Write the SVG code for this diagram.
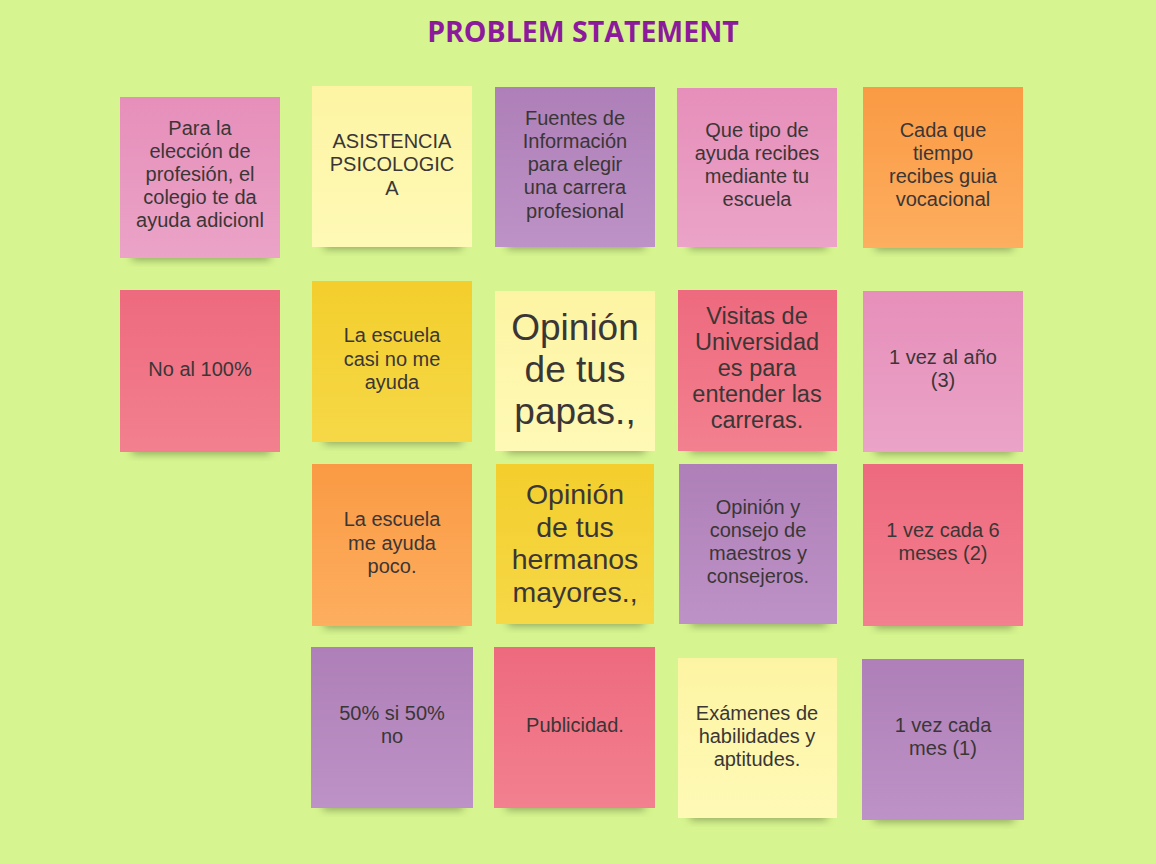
<svg xmlns="http://www.w3.org/2000/svg" width="1156" height="864" viewBox="0 0 1156 864">
<defs>
<filter id="sh" x="-20%" y="-50%" width="140%" height="200%"><feGaussianBlur stdDeviation="4"/></filter>
<linearGradient id="gPink" x1="0" y1="0" x2="0" y2="1"><stop offset="0" stop-color="#e68fba"/><stop offset="1" stop-color="#eba3c7"/></linearGradient>
<linearGradient id="gLY" x1="0" y1="0" x2="0" y2="1"><stop offset="0" stop-color="#fdf4a3"/><stop offset="1" stop-color="#fef9b6"/></linearGradient>
<linearGradient id="gPur" x1="0" y1="0" x2="0" y2="1"><stop offset="0" stop-color="#ae7fb8"/><stop offset="1" stop-color="#bd92c6"/></linearGradient>
<linearGradient id="gOr" x1="0" y1="0" x2="0" y2="1"><stop offset="0" stop-color="#fa9a44"/><stop offset="1" stop-color="#fdae5f"/></linearGradient>
<linearGradient id="gRed" x1="0" y1="0" x2="0" y2="1"><stop offset="0" stop-color="#ee6a7e"/><stop offset="1" stop-color="#f2808f"/></linearGradient>
<linearGradient id="gGold" x1="0" y1="0" x2="0" y2="1"><stop offset="0" stop-color="#f3ce2c"/><stop offset="1" stop-color="#f6d847"/></linearGradient>
</defs>
<style>
.t{font-family:"Liberation Sans",Arial,sans-serif;font-size:20px;fill:#3b3636;text-anchor:middle}
.b{font-size:37px}
.m{font-size:28.5px}
.v{font-size:23.5px}
.sd{fill:#4b5a2a;opacity:0.5;filter:url(#sh)}
.title{font-family:"Open Sans","Noto Sans",sans-serif;font-weight:bold;font-size:28.5px;fill:#8c1b9c;text-anchor:middle}
</style>
<rect width="1156" height="864" fill="#d6f590"/>
<text class="title" x="583" y="42">PROBLEM STATEMENT</text>

<g id="n1"><rect class="sd" x="132" y="246" width="138" height="14"/><rect x="120" y="97" width="160" height="161" fill="url(#gPink)"/>
<text class="t" x="200" y="135">Para la</text><text class="t" x="200" y="158">elección de</text><text class="t" x="200" y="181">profesión, el</text><text class="t" x="200" y="204">colegio te da</text><text class="t" x="200" y="227">ayuda adicionl</text></g>

<g id="n2"><rect class="sd" x="324" y="235" width="138" height="14"/><rect x="312" y="86" width="160" height="161" fill="url(#gLY)"/>
<text class="t" x="392" y="148">ASISTENCIA</text><text class="t" x="392" y="171">PSICOLOGIC</text><text class="t" x="392" y="195">A</text></g>

<g id="n3"><rect class="sd" x="507" y="235" width="138" height="14"/><rect x="495" y="87" width="160" height="160" fill="url(#gPur)"/>
<text class="t" x="575" y="125">Fuentes de</text><text class="t" x="575" y="148">Información</text><text class="t" x="575" y="171">para elegir</text><text class="t" x="575" y="194">una carrera</text><text class="t" x="575" y="218">profesional</text></g>

<g id="n4"><rect class="sd" x="689" y="235" width="138" height="14"/><rect x="677" y="88" width="160" height="159" fill="url(#gPink)"/>
<text class="t" x="757" y="137">Que tipo de</text><text class="t" x="757" y="160">ayuda recibes</text><text class="t" x="757" y="183">mediante tu</text><text class="t" x="757" y="206">escuela</text></g>

<g id="n5"><rect class="sd" x="875" y="236" width="138" height="14"/><rect x="863" y="87" width="160" height="161" fill="url(#gOr)"/>
<text class="t" x="943" y="137">Cada que</text><text class="t" x="943" y="160">tiempo</text><text class="t" x="943" y="183">recibes guia</text><text class="t" x="943" y="206">vocacional</text></g>

<g id="n6"><rect class="sd" x="132" y="440" width="138" height="14"/><rect x="120" y="290" width="160" height="162" fill="url(#gRed)"/>
<text class="t" x="200" y="376">No al 100%</text></g>

<g id="n7"><rect class="sd" x="324" y="430" width="138" height="14"/><rect x="312" y="281" width="160" height="161" fill="url(#gGold)"/>
<text class="t" x="392" y="342">La escuela</text><text class="t" x="392" y="366">casi no me</text><text class="t" x="392" y="389">ayuda</text></g>

<g id="n8"><rect class="sd" x="507" y="439" width="138" height="14"/><rect x="495" y="291" width="160" height="160" fill="url(#gLY)"/>
<text class="t b" x="575" y="340">Opinión</text><text class="t b" x="575" y="382">de tus</text><text class="t b" x="575" y="424">papas.,</text></g>

<g id="n9"><rect class="sd" x="690" y="439" width="137" height="14"/><rect x="678" y="290" width="159" height="161" fill="url(#gRed)"/>
<text class="t v" x="757" y="324">Visitas de</text><text class="t v" x="757" y="350">Universidad</text><text class="t v" x="757" y="376">es para</text><text class="t v" x="757" y="402">entender las</text><text class="t v" x="757" y="428">carreras.</text></g>

<g id="n10"><rect class="sd" x="875" y="440" width="138" height="14"/><rect x="863" y="291" width="160" height="161" fill="url(#gPink)"/>
<text class="t" x="943" y="364">1 vez al año</text><text class="t" x="943" y="387">(3)</text></g>

<g id="n11"><rect class="sd" x="324" y="614" width="138" height="14"/><rect x="312" y="464" width="160" height="162" fill="url(#gOr)"/>
<text class="t" x="392" y="526">La escuela</text><text class="t" x="392" y="550">me ayuda</text><text class="t" x="392" y="573">poco.</text></g>

<g id="n12"><rect class="sd" x="508" y="612" width="136" height="14"/><rect x="496" y="464" width="158" height="160" fill="url(#gGold)"/>
<text class="t m" x="575" y="504">Opinión</text><text class="t m" x="575" y="537">de tus</text><text class="t m" x="575" y="569">hermanos</text><text class="t m" x="575" y="602">mayores.,</text></g>

<g id="n13"><rect class="sd" x="691" y="612" width="136" height="14"/><rect x="679" y="464" width="158" height="160" fill="url(#gPur)"/>
<text class="t" x="758" y="514">Opinión y</text><text class="t" x="758" y="537">consejo de</text><text class="t" x="758" y="560">maestros y</text><text class="t" x="758" y="583">consejeros.</text></g>

<g id="n14"><rect class="sd" x="875" y="614" width="138" height="14"/><rect x="863" y="464" width="160" height="162" fill="url(#gRed)"/>
<text class="t" x="943" y="537">1 vez cada 6</text><text class="t" x="943" y="560">meses (2)</text></g>

<g id="n15"><rect class="sd" x="323" y="796" width="140" height="14"/><rect x="311" y="647" width="162" height="161" fill="url(#gPur)"/>
<text class="t" x="392" y="720">50% si 50%</text><text class="t" x="392" y="743">no</text></g>

<g id="n16"><rect class="sd" x="506" y="796" width="139" height="14"/><rect x="494" y="647" width="161" height="161" fill="url(#gRed)"/>
<text class="t" x="575" y="732">Publicidad.</text></g>

<g id="n17"><rect class="sd" x="690" y="806" width="137" height="14"/><rect x="678" y="658" width="159" height="160" fill="url(#gLY)"/>
<text class="t" x="757" y="720">Exámenes de</text><text class="t" x="757" y="743">habilidades y</text><text class="t" x="757" y="766">aptitudes.</text></g>

<g id="n18"><rect class="sd" x="874" y="808" width="140" height="14"/><rect x="862" y="659" width="162" height="161" fill="url(#gPur)"/>
<text class="t" x="943" y="732">1 vez cada</text><text class="t" x="943" y="755">mes (1)</text></g>

<g id="connectors"/>
</svg>
